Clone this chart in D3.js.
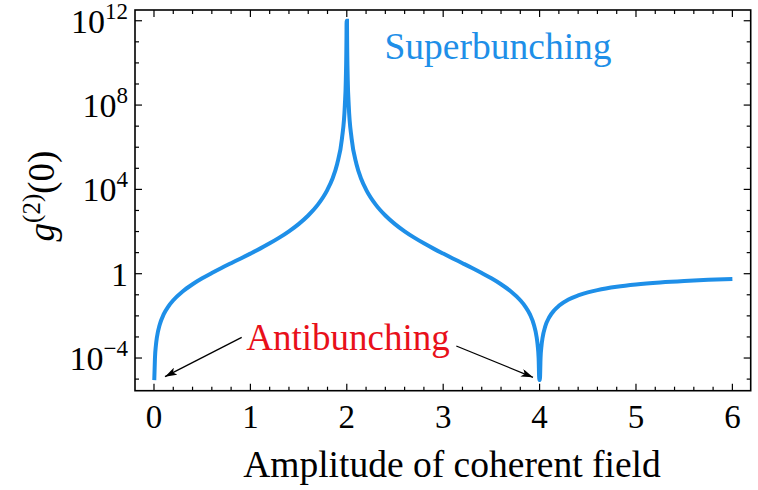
<!DOCTYPE html>
<html>
<head>
<meta charset="utf-8">
<script src="https://cdn.jsdelivr.net/npm/d3@7"></script>
<style>
  body { margin: 0; background: #fff; }
  svg { display: block; }
  text { font-family: "Liberation Serif", "Times New Roman", serif; fill: #000; }
</style>
</head>
<body>
<svg id="chart" width="758" height="490"></svg>
<script>
// amplitude of the coherent field (x) and g2(0)
var amp = [0.003, 0.01, 0.02, 0.03, 0.06, 0.1, 0.15, 0.2, 0.3, 0.4, 0.5, 0.6, 0.7, 0.8, 0.9,
  1.0, 1.1, 1.2, 1.3, 1.4, 1.5, 1.6, 1.7, 1.8, 1.85, 1.9, 1.95, 1.98, 1.99, 1.997, 1.998,
  2.002, 2.003, 2.01, 2.02, 2.05, 2.1, 2.15, 2.2, 2.3, 2.4, 2.5, 2.6, 2.7, 2.8, 2.9,
  3.0, 3.1, 3.2, 3.3, 3.4, 3.5, 3.6, 3.7, 3.8, 3.85, 3.9, 3.94, 3.97, 3.98, 3.99, 3.997,
  4.003, 4.01, 4.02, 4.03, 4.06, 4.1, 4.15, 4.2, 4.3, 4.4, 4.5, 4.6, 4.8, 5.0, 5.25, 5.5, 5.75, 6.0];
var g2 = [9e-6, 1.0e-4, 4.1e-4, 9.4e-4, 3.9e-3, 0.0117, 0.0285, 0.055, 0.148, 0.316, 0.605, 1.08, 1.87, 3.16, 5.3,
  9, 15.5, 27.6, 51.3, 102, 225, 576, 1890, 9800, 31000, 1.6e5, 2.6e6, 1.0e8, 1.6e9, 2.0e11, 1e12,
  1e12, 2.0e11, 1.6e9, 1.0e8, 2.6e6, 1.6e5, 31000, 9800, 1890, 576, 225, 102, 51.3, 27.6, 15.5,
  9, 5.3, 3.16, 1.87, 1.08, 0.605, 0.316, 0.148, 0.055, 0.0285, 0.0117, 3.9e-3, 9.4e-4, 4.1e-4, 1.0e-4, 9e-6,
  9e-6, 9.9e-5, 3.9e-4, 8.6e-4, 3.3e-3, 8.6e-3, 0.018, 0.030, 0.060, 0.093, 0.130, 0.167, 0.240, 0.309, 0.386, 0.454, 0.512, 0.5625];

var xTicks = [0, 1, 2, 3, 4, 5, 6];
var yTickExp = [-4, 0, 4, 8, 12];

var svg = d3.select("#chart");
var plotL = 135, plotR = 750.7, plotT = 10, plotB = 390.7;

var x = d3.scaleLinear().domain([-0.197, 6.19]).range([plotL, plotR]);
var y = d3.scaleLog().domain([Math.pow(10, -5.55), Math.pow(10, 12.51)]).range([plotB, plotT]);

var blue = "#1e8fe8";

// curve
var line = d3.line()
  .x(function(d, i) { return x(amp[i]); })
  .y(function(d) { return y(d); })
  .curve(d3.curveMonotoneX);

svg.append("path")
  .datum(g2)
  .attr("d", line)
  .attr("fill", "none")
  .attr("stroke", blue)
  .attr("stroke-width", 4);

// ticks on all four sides, pointing inwards
var ticks = svg.append("g").attr("stroke", "#000").attr("stroke-width", 1.2);
var xMinor = d3.range(0, 31).map(function(k) { return k * 0.2; });
xMinor.forEach(function(v) {
  var major = Math.abs(v - Math.round(v)) < 1e-6;
  var len = major ? 7 : 4;
  ticks.append("line").attr("x1", x(v)).attr("x2", x(v)).attr("y1", plotB).attr("y2", plotB - len);
  ticks.append("line").attr("x1", x(v)).attr("x2", x(v)).attr("y1", plotT).attr("y2", plotT + len);
});

d3.range(-5, 13).forEach(function(e) {
  var major = yTickExp.indexOf(e) >= 0;
  var len = major ? 7 : 4;
  var yy = y(Math.pow(10, e));
  ticks.append("line").attr("x1", plotL).attr("x2", plotL + len).attr("y1", yy).attr("y2", yy);
  ticks.append("line").attr("x1", plotR).attr("x2", plotR - len).attr("y1", yy).attr("y2", yy);
});

// frame
svg.append("rect")
  .attr("x", plotL).attr("y", plotT)
  .attr("width", plotR - plotL).attr("height", plotB - plotT)
  .attr("fill", "none").attr("stroke", "#000").attr("stroke-width", 1.6);

// x tick labels
svg.selectAll(".xlab").data(xTicks).enter().append("text")
  .attr("class", "xlab")
  .attr("x", function(d) { return x(d); })
  .attr("y", 428)
  .attr("text-anchor", "middle")
  .style("font-size", "33px")
  .text(function(d) { return d; });

// y tick labels
yTickExp.forEach(function(e) {
  var t = svg.append("text")
    .attr("x", plotL - 7)
    .attr("y", y(Math.pow(10, e)) + 12)
    .attr("text-anchor", "end")
    .style("font-size", "34px");
  if (e === 0) {
    t.text("1");
  } else {
    t.append("tspan").text("10");
    t.append("tspan")
      .attr("dy", -14)
      .style("font-size", "23px")
      .text(e < 0 ? "\u2212" + (-e) : e);
  }
});

// axis titles
svg.append("text")
  .attr("x", 452).attr("y", 477)
  .attr("text-anchor", "middle")
  .style("font-size", "37.5px")
  .text("Amplitude of coherent field");

var yt = svg.append("text")
  .attr("transform", "translate(54,196) rotate(-90)")
  .attr("text-anchor", "middle")
  .style("font-size", "37px");
yt.append("tspan").style("font-style", "italic").text("g");
yt.append("tspan").attr("dy", -14).style("font-size", "25px").text("(2)");
yt.append("tspan").attr("dy", 14).text("(0)");

// annotations
svg.append("text")
  .attr("x", 384.5).attr("y", 59)
  .style("font-size", "37.5px")
  .style("fill", blue)
  .text("Superbunching");

svg.append("text")
  .attr("x", 348).attr("y", 350)
  .attr("text-anchor", "middle")
  .style("font-size", "37px")
  .style("fill", "#e8101a")
  .text("Antibunching");

svg.append("defs").append("marker")
  .attr("id", "head")
  .attr("viewBox", "0 0 12 8")
  .attr("refX", 12).attr("refY", 4)
  .attr("markerWidth", 12).attr("markerHeight", 8)
  .attr("markerUnits", "userSpaceOnUse")
  .attr("orient", "auto")
  .append("path")
  .attr("d", "M0,0 L12,4 L0,8 L3,4 Z")
  .attr("fill", "#000");

var arrows = [
  { x1: 241.7, y1: 337.3, x2: 165, y2: 376.7 },
  { x1: 456.3, y1: 346, x2: 533, y2: 377.3 }
];
svg.selectAll(".arrow").data(arrows).enter().append("line")
  .attr("class", "arrow")
  .attr("x1", function(d) { return d.x1; })
  .attr("y1", function(d) { return d.y1; })
  .attr("x2", function(d) { return d.x2; })
  .attr("y2", function(d) { return d.y2; })
  .attr("stroke", "#000")
  .attr("stroke-width", 1.3)
  .attr("marker-end", "url(#head)");
</script>
</body>
</html>
